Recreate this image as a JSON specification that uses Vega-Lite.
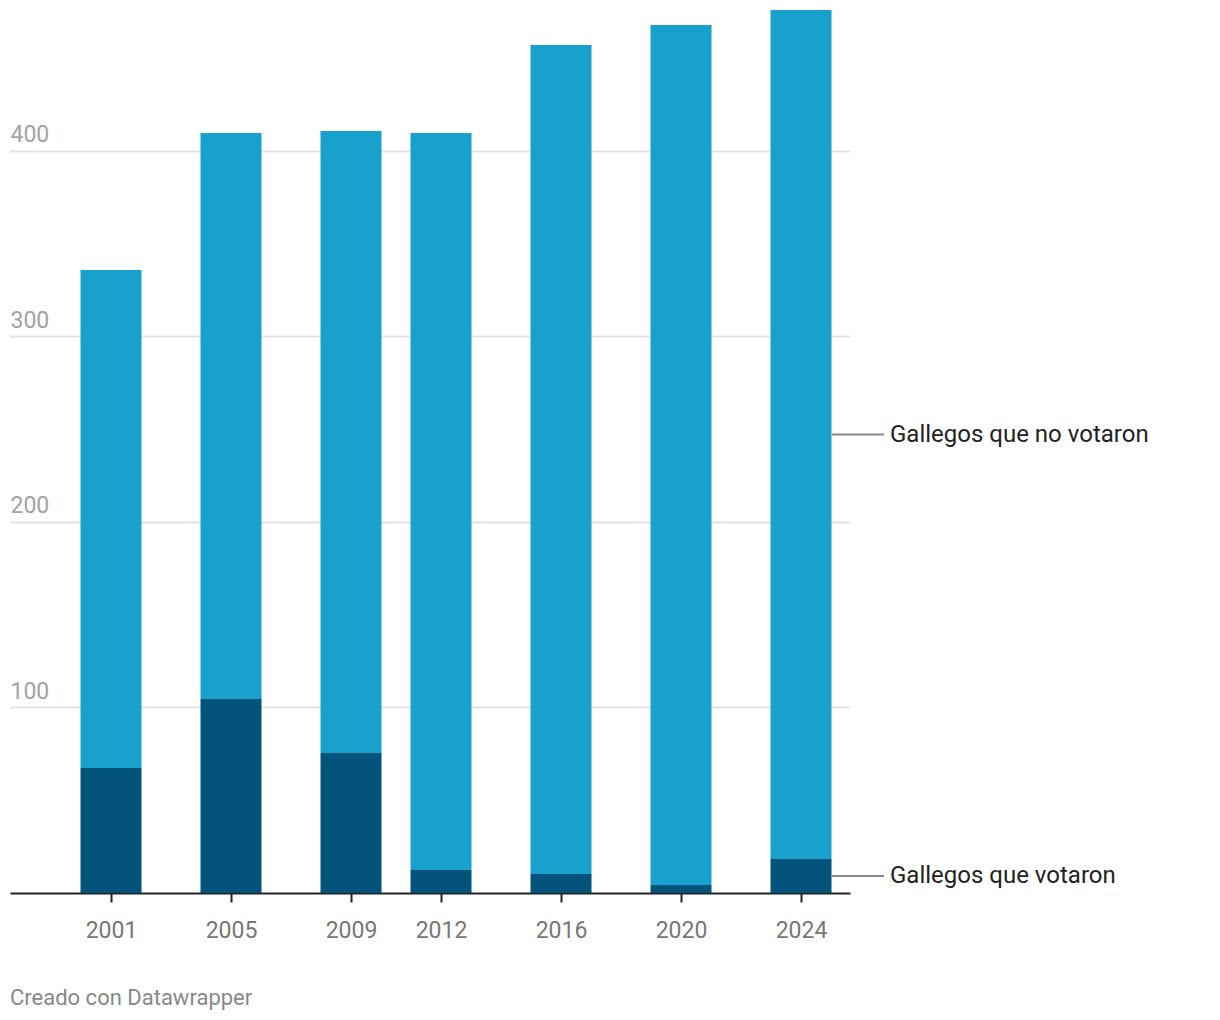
{
  "$schema": "https://vega.github.io/schema/vega-lite/v6.json",
  "width": 840,
  "height": 883,
  "autosize": {"type": "none"},
  "padding": {"left": 10, "top": 10, "right": 370, "bottom": 127},
  "background": "white",
  "config": {
    "font": "Roboto",
    "view": {"stroke": null}
  },
  "title": {
    "text": "Creado con Datawrapper",
    "orient": "bottom",
    "anchor": "start",
    "frame": "group",
    "fontSize": 22,
    "fontWeight": "normal",
    "color": "#888888",
    "offset": 46,
    "baseline": "top"
  },
  "data": {
    "values": [
      {"year": 2001, "grupo": "Gallegos que votaron", "orden": 1, "valor": 67.3},
      {"year": 2001, "grupo": "Gallegos que no votaron", "orden": 2, "valor": 268.4},
      {"year": 2005, "grupo": "Gallegos que votaron", "orden": 1, "valor": 104.5},
      {"year": 2005, "grupo": "Gallegos que no votaron", "orden": 2, "valor": 305.0},
      {"year": 2009, "grupo": "Gallegos que votaron", "orden": 1, "valor": 75.4},
      {"year": 2009, "grupo": "Gallegos que no votaron", "orden": 2, "valor": 335.2},
      {"year": 2012, "grupo": "Gallegos que votaron", "orden": 1, "valor": 12.4},
      {"year": 2012, "grupo": "Gallegos que no votaron", "orden": 2, "valor": 397.1},
      {"year": 2016, "grupo": "Gallegos que votaron", "orden": 1, "valor": 10.2},
      {"year": 2016, "grupo": "Gallegos que no votaron", "orden": 2, "valor": 446.7},
      {"year": 2020, "grupo": "Gallegos que votaron", "orden": 1, "valor": 4.3},
      {"year": 2020, "grupo": "Gallegos que no votaron", "orden": 2, "valor": 463.4},
      {"year": 2024, "grupo": "Gallegos que votaron", "orden": 1, "valor": 18.3},
      {"year": 2024, "grupo": "Gallegos que no votaron", "orden": 2, "valor": 457.5}
    ]
  },
  "transform": [
    {"stack": "valor", "groupby": ["year"], "sort": [{"field": "orden", "order": "ascending"}], "as": ["y0", "y1"]},
    {"calculate": "(datum.y0 + datum.y1) / 2", "as": "ymid"}
  ],
  "layer": [
    {
      "mark": {"type": "bar", "width": 61},
      "encoding": {
        "x": {
          "field": "year",
          "type": "quantitative",
          "scale": {"domain": [1997.633, 2025.633], "nice": false, "zero": false, "padding": 0},
          "axis": {
            "values": [2001, 2005, 2009, 2012, 2016, 2020, 2024],
            "format": "d",
            "title": null,
            "grid": false,
            "domain": true,
            "domainColor": "#222222",
            "domainWidth": 2,
            "ticks": true,
            "tickColor": "#222222",
            "tickSize": 9,
            "tickWidth": 2,
            "labelFont": "Roboto",
            "labelFontSize": 23,
            "labelColor": "#777777",
            "labelPadding": 17
          }
        },
        "y": {
          "field": "y0",
          "type": "quantitative",
          "scale": {"domain": [0, 475.8], "nice": false},
          "axis": {
            "values": [100, 200, 300, 400],
            "title": null,
            "domain": false,
            "ticks": false,
            "grid": true,
            "gridColor": "#e3e3e3",
            "gridWidth": 2,
            "labelAlign": "left",
            "labelBaseline": "alphabetic",
            "labelPadding": 0,
            "labelOffset": -9,
            "labelFont": "Roboto",
            "labelFontSize": 23,
            "labelColor": "#a3a3a3"
          }
        },
        "y2": {"field": "y1"},
        "color": {
          "field": "grupo",
          "type": "nominal",
          "scale": {
            "domain": ["Gallegos que votaron", "Gallegos que no votaron"],
            "range": ["#03537a", "#18a1cd"]
          },
          "legend": null
        }
      }
    },
    {
      "transform": [{"filter": "datum.year == 2024"}],
      "mark": {"type": "rule", "color": "#888888", "strokeWidth": 2, "xOffset": 31, "x2Offset": 83, "clip": false},
      "encoding": {
        "x": {"field": "year", "type": "quantitative"},
        "x2": {"field": "year"},
        "y": {"field": "ymid", "type": "quantitative"}
      }
    },
    {
      "transform": [{"filter": "datum.year == 2024"}],
      "mark": {"type": "text", "align": "left", "baseline": "middle", "dx": 89, "fontSize": 24, "font": "Roboto", "color": "#222222", "clip": false},
      "encoding": {
        "x": {"field": "year", "type": "quantitative"},
        "y": {"field": "ymid", "type": "quantitative"},
        "text": {"field": "grupo"}
      }
    }
  ]
}
